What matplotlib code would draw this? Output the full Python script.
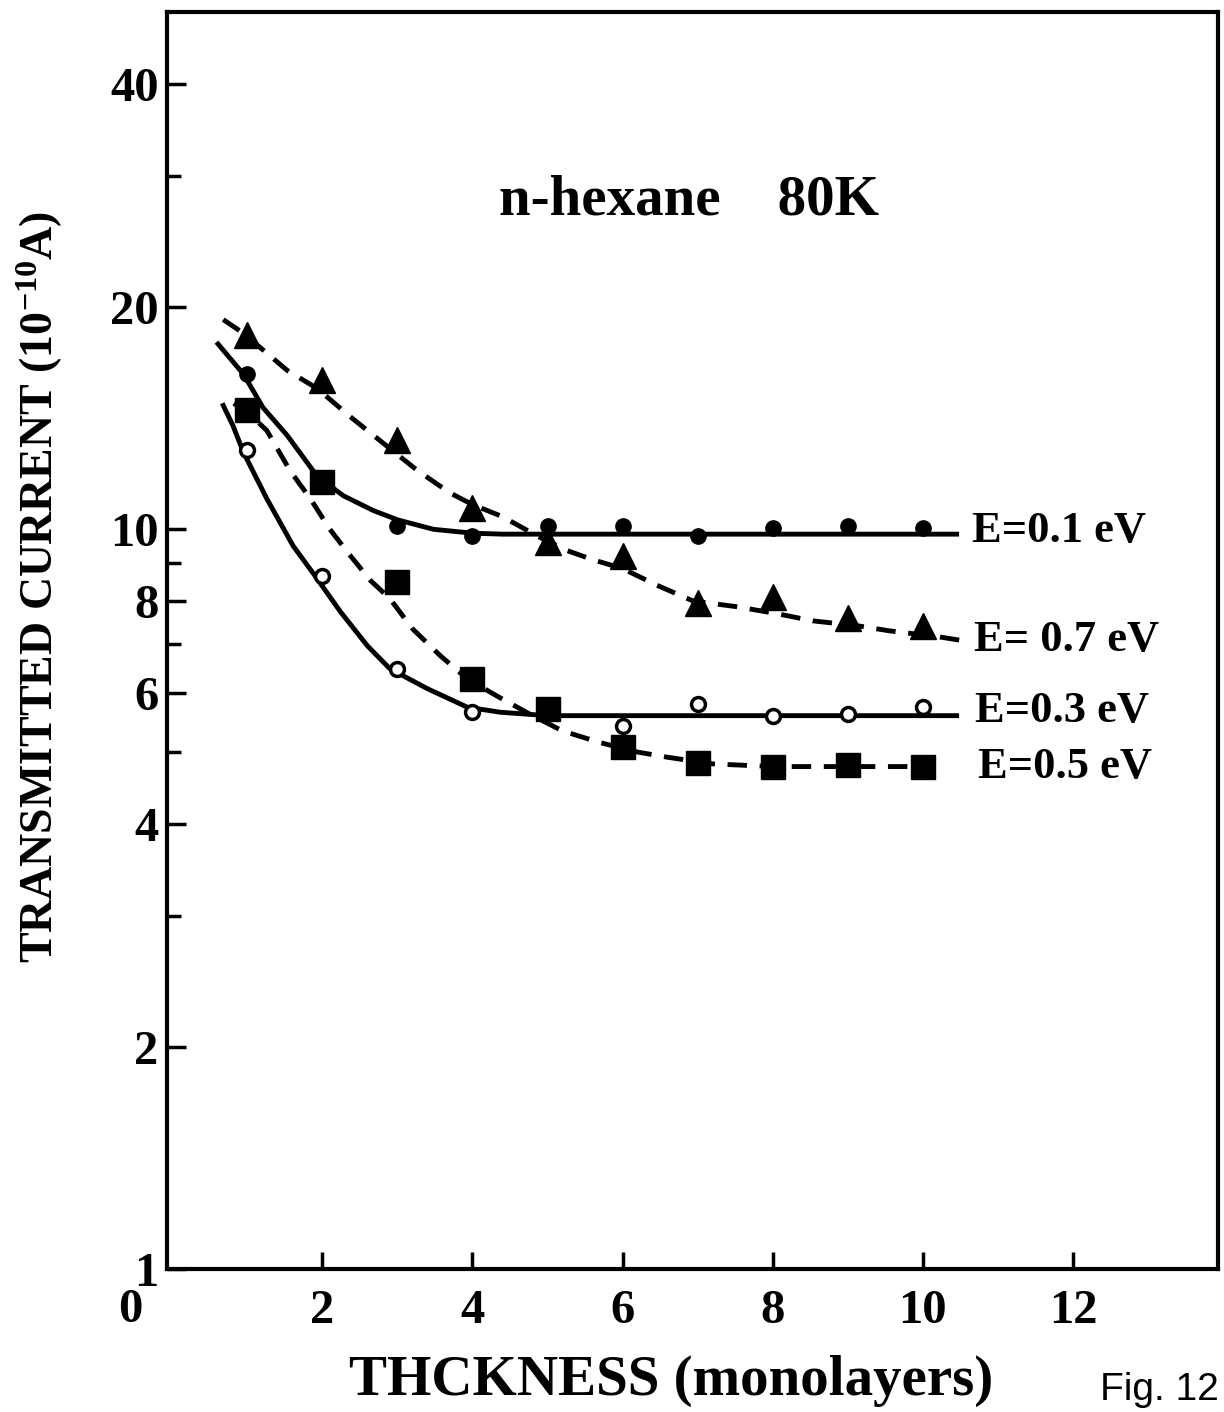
import matplotlib
matplotlib.use('Agg')
import matplotlib.pyplot as plt
from matplotlib.ticker import FixedLocator, NullFormatter

OUT_PNG = 'out.png'

# measured points (thickness in monolayers, current in 1e-10 A)
x_pts = [1, 2, 3, 4, 5, 6, 7, 8, 9, 10]
e01_pts = [16.2, 11.7, 10.1, 9.8, 10.1, 10.1, 9.8, 10.05, 10.1, 10.05]
e07_pts = [18.3, 15.9, 13.2, 10.7, 9.6, 9.2, 7.95, 8.1, 7.6, 7.4]
e03_pts = [12.8, 8.66, 6.48, 5.66, 5.7, 5.42, 5.8, 5.6, 5.63, 5.75]
e05_pts = [14.5, 11.6, 8.5, 6.28, 5.72, 5.08, 4.84, 4.77, 4.8, 4.77]

# guide curves drawn through the points
e01_cx = [0.61, 0.95, 1.21, 1.53, 1.93, 2.28, 2.68, 3.0, 3.48, 4.0, 4.4, 6, 8, 10.45]
e01_cy = [17.8, 16.2, 14.6, 13.4, 11.8, 11.1, 10.6, 10.3, 10.0, 9.88, 9.85, 9.85, 9.85, 9.85]
e07_cx = [0.68, 0.95, 1.26, 1.53, 1.93, 2.37, 2.8, 3.27, 3.7, 4.0, 4.4, 4.9, 5.26, 5.6,
          6.0, 6.46, 6.94, 7.52, 8.06, 8.54, 9.12, 9.56, 10.2, 10.5]
e07_cy = [19.2, 18.4, 17.3, 16.4, 15.5, 14.2, 13.1, 12.0, 11.2, 10.8, 10.4, 9.75, 9.36, 9.1,
          8.85, 8.4, 8.0, 7.86, 7.69, 7.52, 7.41, 7.29, 7.16, 7.08]
e03_cx = [0.68, 0.81, 0.95, 1.26, 1.61, 1.9, 2.24, 2.6, 2.9, 3.4, 3.93, 4.37, 5, 7, 10.45]
e03_cy = [14.7, 13.8, 12.7, 11.0, 9.5, 8.66, 7.74, 6.96, 6.48, 6.09, 5.75, 5.66, 5.6, 5.6, 5.6]
e05_cx = [0.82, 1.0, 1.26, 1.57, 1.84, 2.1, 2.37, 2.64, 2.9, 3.2, 3.57, 3.93, 4.33,
          4.8, 5.2, 5.7, 6.2, 6.6, 7.2, 8, 9, 10]
e05_cy = [14.8, 14.4, 13.6, 12.0, 11.0, 10.0, 9.22, 8.53, 8.06, 7.34, 6.75, 6.28, 5.95,
          5.6, 5.34, 5.15, 5.0, 4.92, 4.82, 4.78, 4.78, 4.78]

labels = ['E=0.1 eV', 'E= 0.7 eV', 'E=0.3 eV', 'E=0.5 eV']
label_x = [10.65, 10.68, 10.7, 10.73]
label_y = [9.95, 7.08, 5.68, 4.77]

y_major = [1, 2, 4, 6, 8, 10, 20, 40]
y_minor = [3, 5, 7, 9, 30]
x_major = [2, 4, 6, 8, 10, 12]

plt.rcParams['font.family'] = ['Liberation Serif', 'DejaVu Serif']
plt.rcParams['font.weight'] = 'bold'
plt.rcParams['axes.labelweight'] = 'bold'
plt.rcParams['mathtext.default'] = 'regular'

fig = plt.figure(figsize=(12.24, 14.12), dpi=100)
ax = fig.add_axes([0.1364, 0.101, 0.8586, 0.8905])

lw = 3.5
dash = (0, (4, 2.6))
ax.plot(e01_cx, e01_cy, color='black', lw=lw)
ax.plot(e07_cx, e07_cy, color='black', lw=lw, linestyle=dash)
ax.plot(e03_cx, e03_cy, color='black', lw=lw)
ax.plot(e05_cx, e05_cy, color='black', lw=lw, linestyle=dash)

ax.plot(x_pts, e01_pts, 'o', color='black', ms=11)
ax.plot(x_pts, e07_pts, '^', color='black', ms=19)
ax.plot(x_pts, e03_pts, 'o', mfc='white', mec='black', mew=2.5, ms=10)
ax.plot(x_pts, e05_pts, 's', color='black', ms=17)

for lab, xv, yv in zip(labels, label_x, label_y):
    ax.text(xv, yv, lab, fontsize=32, va='center', ha='left')

ax.text(0.497, 0.850, 'n-hexane    80K', transform=ax.transAxes,
        fontsize=41, ha='center', va='center')

ax.set_yscale('log')
ax.set_xlim(-0.07, 13.93)
ax.set_ylim(1, 50)

ax.yaxis.set_major_locator(FixedLocator(y_major))
ax.yaxis.set_minor_locator(FixedLocator(y_minor))
ax.yaxis.set_minor_formatter(NullFormatter())
ax.set_yticklabels([str(v) for v in y_major])
ax.set_xticks(x_major)
ax.set_xticklabels([str(v) for v in x_major])

ax.tick_params(axis='both', which='both', direction='in', labelsize=35,
               width=2.5, top=False, right=False)
ax.tick_params(axis='y', which='major', length=14, pad=6)
ax.tick_params(axis='y', which='minor', length=10)
ax.tick_params(axis='x', which='major', length=12, pad=14)
for s in ax.spines.values():
    s.set_linewidth(3)

# stray "0" below the y axis origin
ax.text(-0.56, -0.0325, '0', transform=ax.get_xaxis_transform(), fontsize=35,
        ha='center', va='center', clip_on=False)

ax.set_xlabel('THCKNESS (monolayers)', fontsize=41)
ax.xaxis.set_label_coords(0.48, -0.068)
ax.set_ylabel('TRANSMITTED CURRENT (10$^{-10}$A)', fontsize=33)
ax.yaxis.set_label_coords(-0.097, 0.543)

fig.text(0.899, 0.003, 'Fig. 12', fontsize=28, family='Liberation Sans',
         weight='normal', ha='left', va='bottom')

fig.savefig(OUT_PNG, dpi=100)
